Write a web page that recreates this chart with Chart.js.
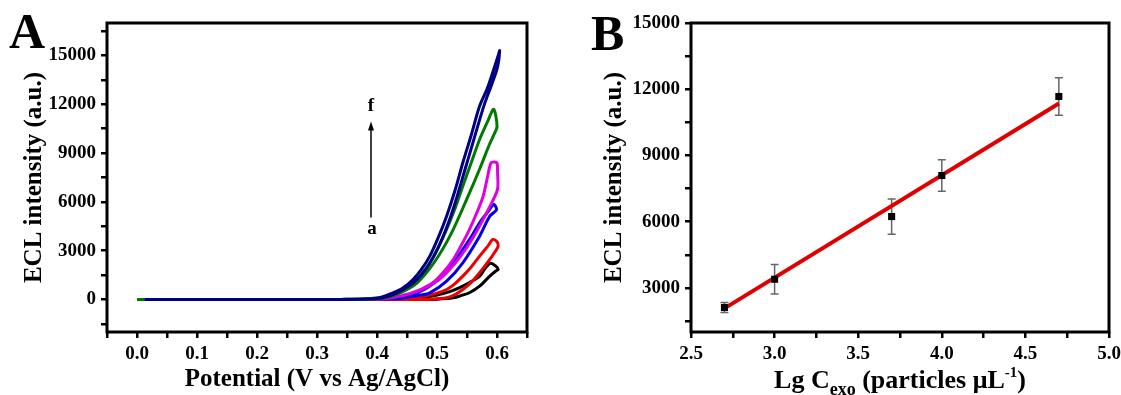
<!DOCTYPE html>
<html>
<head>
<meta charset="utf-8">
<script src="https://cdn.jsdelivr.net/npm/chart.js@4"></script>
<style>
  html, body { margin: 0; padding: 0; background: #fff; }
  #wrap { position: relative; width: 1121px; height: 395px; }
  canvas { position: absolute; top: 0; }
</style>
</head>
<body>
<div id="wrap">
  <canvas id="chartA" width="560" height="395" style="left:0"></canvas>
  <canvas id="chartB" width="561" height="395" style="left:560px"></canvas>
</div>
<script>
// ---- panel A: ECL-potential loops, curves a..f (forward scan then reverse scan)
const pot_a = [0, 0.30, 0.47, 0.50, 0.527, 0.541, 0.554, 0.571, 0.588, 0.598, 0.602,
               0.598, 0.589, 0.58, 0.571, 0.557, 0.543, 0.527, 0.51, 0.49, 0.47, 0.44, 0.40, 0];
const ecl_a = [0, 0, 0, 20, 105, 250, 412, 818, 1433, 1750, 1845,
               2050, 2230, 1900, 1433, 1100, 818, 560, 360, 200, 100, 30, 5, 0];

const pot_b = [0, 0.30, 0.45, 0.49, 0.516, 0.53, 0.543, 0.557, 0.571, 0.588, 0.597, 0.602,
               0.600, 0.593, 0.585, 0.571, 0.557, 0.543, 0.53, 0.516, 0.497, 0.477, 0.45, 0.42, 0.38, 0];
const ecl_b = [0, 0, 0, 20, 105, 300, 615, 1050, 1640, 2460, 2950, 3280,
               3550, 3690, 3300, 2663, 2000, 1433, 980, 615, 360, 203, 90, 25, 5, 0];

const pot_c = [0, 0.30, 0.40, 0.44, 0.465, 0.488, 0.516, 0.543, 0.571, 0.588, 0.599,
               0.598, 0.594, 0.587, 0.571, 0.557, 0.543, 0.53, 0.516, 0.502, 0.488, 0.474, 0.46, 0.44, 0.41, 0.38, 0.34, 0];
const ecl_c = [0, 0, 10, 80, 220, 412, 1125, 2257, 3893, 5123, 5500,
               5700, 5850, 5500, 4717, 3850, 3075, 2400, 1845, 1300, 818, 520, 307, 150, 45, 10, 2, 0];

const pot_d = [0, 0.30, 0.39, 0.42, 0.45, 0.475, 0.499, 0.52, 0.54, 0.56, 0.578, 0.592, 0.601,
               0.601, 0.600, 0.596, 0.590, 0.584, 0.577, 0.566, 0.554, 0.54, 0.527, 0.51, 0.493, 0.475, 0.46, 0.44, 0.41, 0.38, 0.34, 0];
const ecl_d = [0, 0, 15, 80, 300, 620, 1100, 1800, 2700, 3800, 5000, 6000, 6800,
               7800, 8400, 8450, 8400, 7500, 6355, 5300, 4300, 3300, 2460, 1650, 1025, 650, 430, 220, 70, 15, 3, 0];

const pot_e = [0, 0.30, 0.38, 0.415, 0.439, 0.467, 0.495, 0.523, 0.55, 0.572, 0.587, 0.597, 0.600,
               0.598, 0.594, 0.585, 0.571, 0.557, 0.543, 0.53, 0.516, 0.502, 0.488, 0.474, 0.46, 0.446, 0.432, 0.41, 0.38, 0.34, 0.30, 0];
const ecl_e = [0, 0, 20, 110, 412, 1027, 2257, 4000, 6200, 8100, 9500, 10300, 10600,
               11300, 11700, 11000, 9840, 8400, 6968, 5600, 4305, 3200, 2257, 1550, 1027, 650, 412, 150, 40, 5, 0, 0];

const pot_f = [0.013, 0.30, 0.37, 0.41, 0.434, 0.467, 0.495, 0.523, 0.55, 0.578, 0.592, 0.601, 0.6045,
               0.602, 0.595, 0.584, 0.571, 0.557, 0.543, 0.53, 0.516, 0.502, 0.488, 0.474, 0.46, 0.443, 0.427, 0.4045, 0.38, 0.34, 0.30, 0.013];
const ecl_f = [0, 0, 15, 105, 412, 1230, 2665, 5123, 8405, 11890, 13300, 14300, 15300,
               15000, 14200, 13000, 11890, 10100, 8405, 6700, 5123, 3800, 2665, 1850, 1230, 700, 412, 105, 25, 5, 0, 0];

const curveNames = ['a', 'b', 'c', 'd', 'e', 'f'];
const curveColors = ['#000000', '#ee0000', '#0000ee', '#e000e0', '#007a00', '#000080'];

const xTicksA = [-0.05, 0, 0.05, 0.1, 0.15, 0.2, 0.25, 0.3, 0.35, 0.4, 0.45, 0.5, 0.55, 0.6, 0.65];
const xLabelsA = ['', '0.0', '', '0.1', '', '0.2', '', '0.3', '', '0.4', '', '0.5', '', '0.6', ''];
const yTicksA = [-1500, 0, 1500, 3000, 4500, 6000, 7500, 9000, 10500, 12000, 13500, 15000, 16500];
const yLabelsA = ['', '0', '', '3000', '', '6000', '', '9000', '', '12000', '', '15000', ''];

// ---- panel B: calibration
const lgC = [2.7, 3.0, 3.7, 4.0, 4.7];
const eclB = [2110, 3390, 6230, 8090, 11670];
const errB = [225, 670, 800, 715, 855];
const fitX = [2.7, 4.7];
const fitY = [2070, 11350];

const xTicksB = [2.5, 2.75, 3.0, 3.25, 3.5, 3.75, 4.0, 4.25, 4.5, 4.75, 5.0];
const xLabelsB = ['2.5', '', '3.0', '', '3.5', '', '4.0', '', '4.5', '', '5.0'];
const yTicksB = [1500, 3000, 4500, 6000, 7500, 9000, 10500, 12000, 13500, 15000];
const yLabelsB = ['', '3000', '', '6000', '', '9000', '', '12000', '', '15000'];

Chart.defaults.font.family = "'Liberation Serif', 'Times New Roman', serif";
Chart.defaults.font.weight = 'bold';
Chart.defaults.color = '#000';

const SERIF = "'Liberation Serif', 'Times New Roman', serif";

// frame round the plot area
const framePlugin = {
  id: 'frame',
  afterDraw(chart) {
    const { ctx, chartArea: a } = chart;
    ctx.save();
    ctx.lineWidth = 3;
    ctx.strokeStyle = '#000';
    ctx.strokeRect(a.left, a.top, a.right - a.left, a.bottom - a.top);
    ctx.restore();
  }
};

function tickGrid() {
  return { display: true, drawOnChartArea: false, drawTicks: true, tickLength: 6,
           lineWidth: 2.5, tickWidth: 2.5, tickColor: '#000' };
}

function makeScale(min, max, ticks, labels, title, fit) {
  return {
    type: 'linear', min: min, max: max,
    afterBuildTicks: s => { s.ticks = ticks.map(v => ({ value: v })); },
    afterFit: fit,
    grid: tickGrid(),
    border: { display: false },
    ticks: { autoSkip: false, maxRotation: 0, padding: 5, color: '#000',
             font: { size: 19, weight: 'bold' }, callback: (v, i) => labels[i] },
    title: title
  };
}

// panel A
const arrowA = { x: 0.39, from: 5040, to: 10950, fAt: 11870, aAt: 4300 };

const panelAPlugin = {
  id: 'panelA',
  afterDraw(chart) {
    const { ctx } = chart;
    const xs = chart.scales.x, ys = chart.scales.y;
    const px = xs.getPixelForValue(arrowA.x);
    const y0 = ys.getPixelForValue(arrowA.from);
    const y1 = ys.getPixelForValue(arrowA.to);
    ctx.save();
    ctx.strokeStyle = '#000';
    ctx.fillStyle = '#000';
    ctx.lineWidth = 1.5;
    ctx.beginPath();
    ctx.moveTo(px, y0);
    ctx.lineTo(px, y1 + 6);
    ctx.stroke();
    ctx.beginPath();
    ctx.moveTo(px, y1);
    ctx.lineTo(px - 3, y1 + 9);
    ctx.lineTo(px + 3, y1 + 9);
    ctx.closePath();
    ctx.fill();
    ctx.font = 'bold 19px ' + SERIF;
    ctx.textAlign = 'center';
    ctx.textBaseline = 'middle';
    ctx.fillText('f', px, ys.getPixelForValue(arrowA.fAt));
    ctx.fillText('a', px + 1, ys.getPixelForValue(arrowA.aAt));
    ctx.font = 'bold 50px ' + SERIF;
    ctx.textAlign = 'left';
    ctx.textBaseline = 'alphabetic';
    ctx.fillText('A', 9, 48);
    ctx.restore();
  }
};

const potSets = [pot_a, pot_b, pot_c, pot_d, pot_e, pot_f];
const eclSets = [ecl_a, ecl_b, ecl_c, ecl_d, ecl_e, ecl_f];

new Chart(document.getElementById('chartA'), {
  type: 'scatter',
  data: {
    datasets: curveNames.map((n, k) => ({
      label: n,
      data: potSets[k].map((x, i) => ({ x: x, y: eclSets[k][i] })),
      showLine: true,
      borderColor: curveColors[k],
      borderWidth: 3,
      pointRadius: 0,
      tension: 0.3,
      order: 5 - k
    }))
  },
  options: {
    responsive: false,
    animation: false,
    devicePixelRatio: 1,
    layout: { padding: { top: 23, right: 33, left: 0, bottom: 0 } },
    plugins: { legend: { display: false }, tooltip: { enabled: false } },
    scales: {
      x: makeScale(-0.05, 0.65, xTicksA, xLabelsA,
        { display: true, text: 'Potential (V vs Ag/AgCl)', color: '#000',
          font: { size: 25, weight: 'bold' }, padding: { top: 0, bottom: 0 } },
        s => { s.height = 63; s.paddingLeft = 0; s.paddingRight = 0; }),
      y: makeScale(-2000, 17000, yTicksA, yLabelsA,
        { display: true, text: 'ECL intensity (a.u.)', color: '#000',
          font: { size: 25, weight: 'bold' }, padding: { top: 20, bottom: 0 } },
        s => { s.width = 107; s.paddingTop = 0; s.paddingBottom = 0; })
    }
  },
  plugins: [framePlugin, panelAPlugin]
});

// panel B
const panelBPlugin = {
  id: 'panelB',
  beforeDatasetsDraw(chart) {
    const { ctx } = chart;
    const xs = chart.scales.x, ys = chart.scales.y;
    ctx.save();
    ctx.strokeStyle = '#666';
    ctx.lineWidth = 1.5;
    lgC.forEach((x, i) => {
      const px = xs.getPixelForValue(x);
      const top = ys.getPixelForValue(eclB[i] + errB[i]);
      const bot = ys.getPixelForValue(eclB[i] - errB[i]);
      ctx.beginPath();
      ctx.moveTo(px, top); ctx.lineTo(px, bot);
      ctx.moveTo(px - 4, top); ctx.lineTo(px + 4, top);
      ctx.moveTo(px - 4, bot); ctx.lineTo(px + 4, bot);
      ctx.stroke();
    });
    ctx.restore();
  },
  afterDraw(chart) {
    const { ctx, chartArea: a } = chart;
    ctx.save();
    ctx.fillStyle = '#000';
    ctx.font = 'bold 50px ' + SERIF;
    ctx.textAlign = 'left';
    ctx.textBaseline = 'alphabetic';
    ctx.fillText('B', 31, 50);
    // axis title with subscript and superscript
    const parts = [['Lg C', 26, 0], ['exo', 18, 7], [' (particles \u03bcL', 26, 0], ['-1', 15, -11], [')', 26, 0]];
    let total = 0;
    parts.forEach(p => { ctx.font = 'bold ' + p[1] + 'px ' + SERIF; total += ctx.measureText(p[0]).width; });
    let x = (a.left + a.right) / 2 - total / 2;
    const base = 388;
    parts.forEach(p => {
      ctx.font = 'bold ' + p[1] + 'px ' + SERIF;
      ctx.fillText(p[0], x, base + p[2]);
      x += ctx.measureText(p[0]).width;
    });
    ctx.restore();
  }
};

new Chart(document.getElementById('chartB'), {
  type: 'scatter',
  data: {
    datasets: [
      {
        label: 'data',
        data: lgC.map((x, i) => ({ x: x, y: eclB[i] })),
        pointStyle: 'rect',
        pointRadius: 5,
        backgroundColor: '#000',
        borderColor: '#000',
        borderWidth: 0
      },
      {
        label: 'fit',
        data: fitX.map((x, i) => ({ x: x, y: fitY[i] })),
        showLine: true,
        borderColor: '#e00000',
        borderWidth: 4,
        pointRadius: 0
      }
    ]
  },
  options: {
    responsive: false,
    animation: false,
    devicePixelRatio: 1,
    layout: { padding: { top: 23, right: 12, left: 0, bottom: 0 } },
    plugins: { legend: { display: false }, tooltip: { enabled: false } },
    scales: {
      x: makeScale(2.5, 5.0, xTicksB, xLabelsB, { display: false },
        s => { s.height = 63; s.paddingLeft = 0; s.paddingRight = 0; }),
      y: makeScale(1000, 15000, yTicksB, yLabelsB,
        { display: true, text: 'ECL intensity (a.u.)', color: '#000',
          font: { size: 25, weight: 'bold' }, padding: { top: 40, bottom: 0 } },
        s => { s.width = 131; s.paddingTop = 0; s.paddingBottom = 0; })
    }
  },
  plugins: [framePlugin, panelBPlugin]
});
</script>
</body>
</html>
